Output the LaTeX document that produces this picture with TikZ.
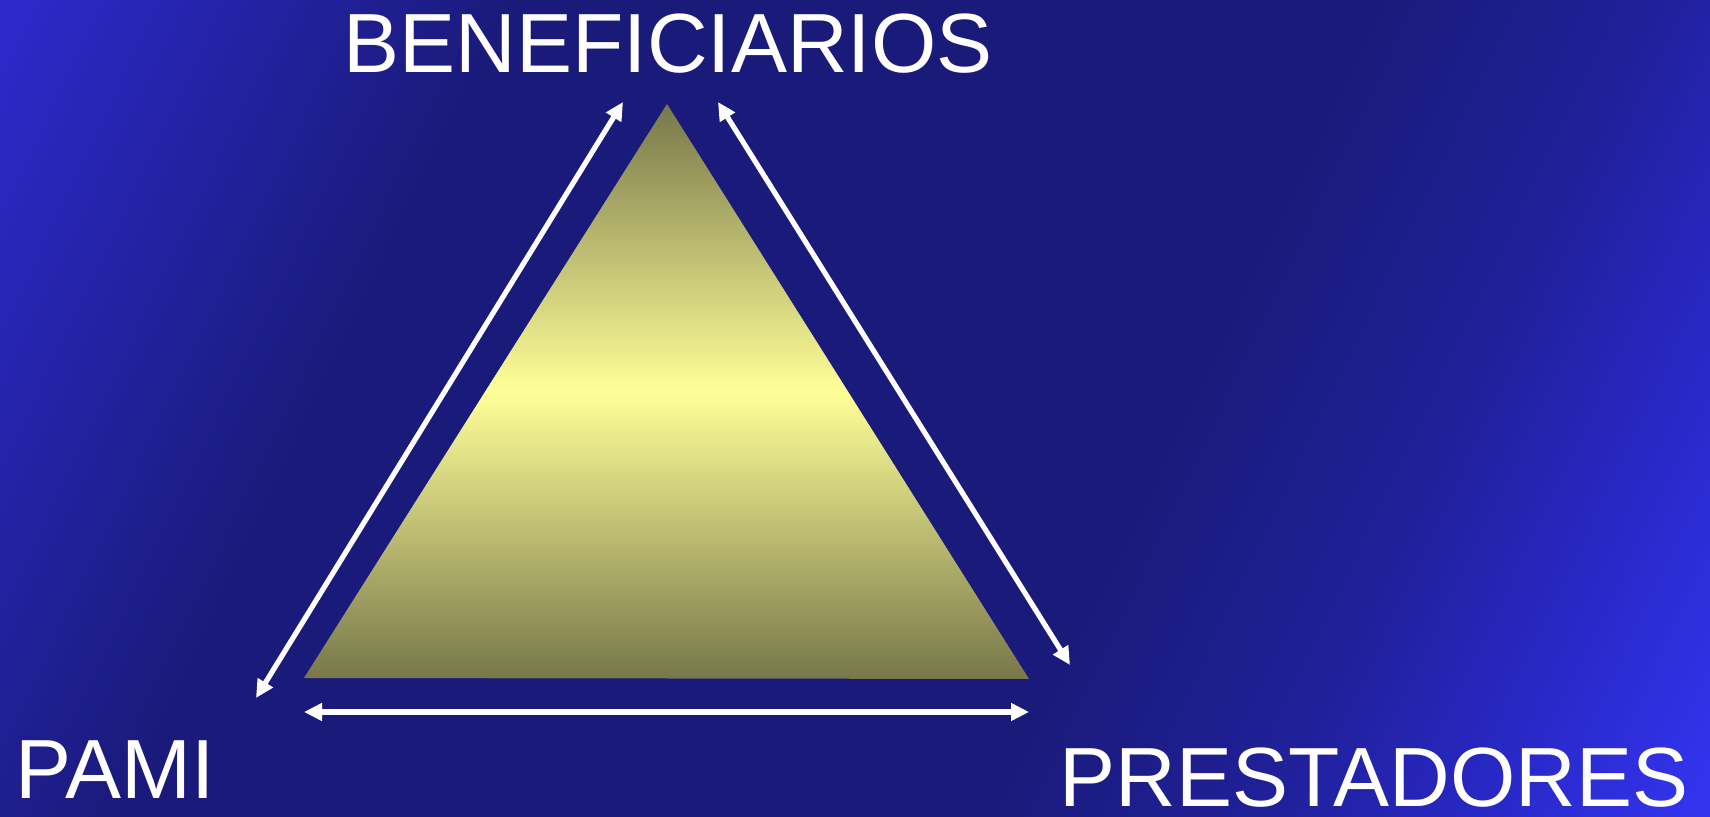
\documentclass[tikz,border=0pt]{standalone}
\usepackage{fontspec}
\setmainfont{Liberation Sans}
\usetikzlibrary{arrows.meta}
\definecolor{fondobr}{HTML}{3434F0}
\definecolor{fondomed}{HTML}{2828C6}
\definecolor{fondoosc}{HTML}{1A1A7A}
\definecolor{fondotl}{HTML}{2C2ACC}
\definecolor{oliva}{HTML}{77774A}
\definecolor{amarillo}{HTML}{FFFF99}
\pgfdeclareverticalshading{fondo}{100bp}{color(0bp)=(fondobr); color(16.7bp)=(fondobr); color(24bp)=(fondomed); color(31bp)=(fondoosc!60!fondomed); color(40bp)=(fondoosc); color(67bp)=(fondoosc); color(83.3bp)=(fondotl); color(100bp)=(fondotl)}
\begin{document}
\begin{tikzpicture}[x=0.5pt,y=-0.5pt,
	lbl/.style={text=white,inner sep=0pt,anchor=base,font=\fontsize{42pt}{42pt}\selectfont},
	flecha/.style={draw=white,line width=2.6pt,{Triangle[length=9pt,width=8.5pt]}-{Triangle[length=9pt,width=8.5pt]}}]
	\useasboundingbox (0,0) rectangle (1710,817);
	\shade[shading=fondo,shading angle=64.5] (0,0) rectangle (1710,817);
	% triangulo
	\coordinate (cima) at (667,104);
	\coordinate (izq) at (304,678);
	\coordinate (der) at (1029,679);
	\shade[top color=oliva,bottom color=oliva,middle color=amarillo] (cima) -- (izq) -- (der) -- cycle;
	% flechas
	\coordinate (fi1) at (623,102);
	\coordinate (fi2) at (256,698);
	\coordinate (fd1) at (718,102);
	\coordinate (fd2) at (1070,665);
	\coordinate (fb1) at (304,712);
	\coordinate (fb2) at (1029,712);
	\draw[flecha] (fi1) -- (fi2);
	\draw[flecha] (fd1) -- (fd2);
	\draw[flecha] (fb1) -- (fb2);
	% textos
	\node[lbl] (benef) at (668,73) {BENEFICIARIOS};
	\node[lbl] (pami) at (115,799) {PAMI};
	\node[lbl] (prest) at (1374,807) {PRESTADORES};
\end{tikzpicture}
\end{document}
